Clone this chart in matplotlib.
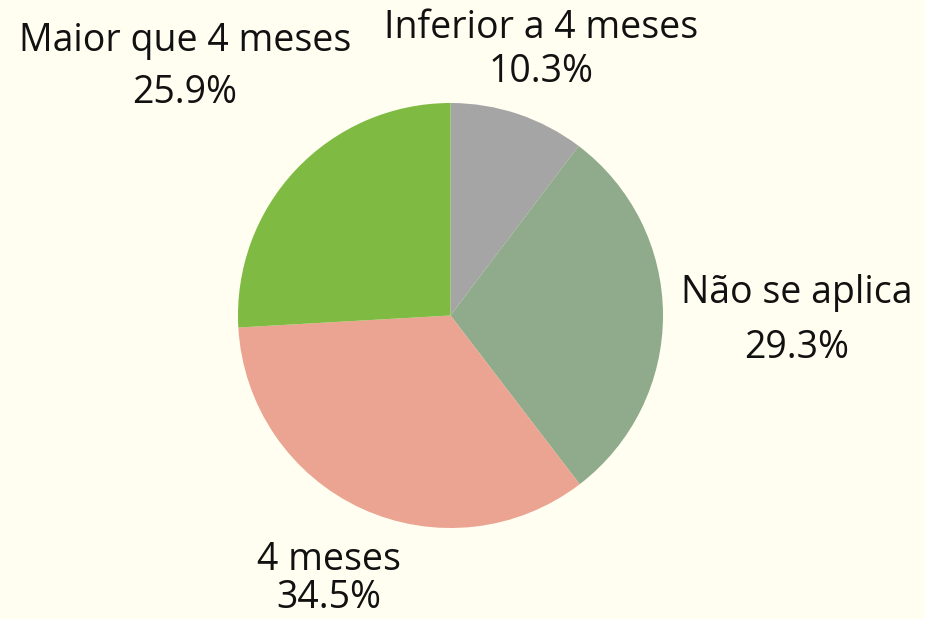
import numpy as np
import matplotlib.pyplot as plt

categories = ["Inferior a 4 meses", "Não se aplica", "4 meses", "Maior que 4 meses"]
shares = [10.3, 29.3, 34.5, 25.9]
colors = ["#a5a5a5", "#8fab8b", "#eaa491", "#7fba42"]

# label layout in pie radii: x centre, baseline of name, baseline of percent
label_x = [0.424, 1.628, -0.572, -1.249]
name_y = [1.306, 0.059, -1.200, 1.245]
pct_y = [1.099, -0.200, -1.375, 1.000]

plt.rcParams["font.family"] = ["Open Sans", "DejaVu Sans"]
bg = "#fffef0"

fig = plt.figure(figsize=(9.25, 6.19), dpi=100, facecolor=bg)
ax = fig.add_axes([238 / 925, 91 / 619, 425 / 925, 425 / 619])
ax.set_facecolor(bg)

ax.pie(shares, colors=colors, startangle=90, counterclock=False,
       wedgeprops=dict(linewidth=0))
ax.set_xlim(-1, 1)
ax.set_ylim(-1, 1)
ax.set_aspect("equal")
ax.axis("off")

for name, val, x, y1, y2 in zip(categories, shares, label_x, name_y, pct_y):
    ax.text(x, y1, name, ha="center", va="baseline", fontsize=27,
            color="#111111", clip_on=False)
    ax.text(x, y2, f"{val}%", ha="center", va="baseline", fontsize=27,
            color="#111111", clip_on=False)

fig.savefig("out.png", dpi=100, facecolor=bg)
